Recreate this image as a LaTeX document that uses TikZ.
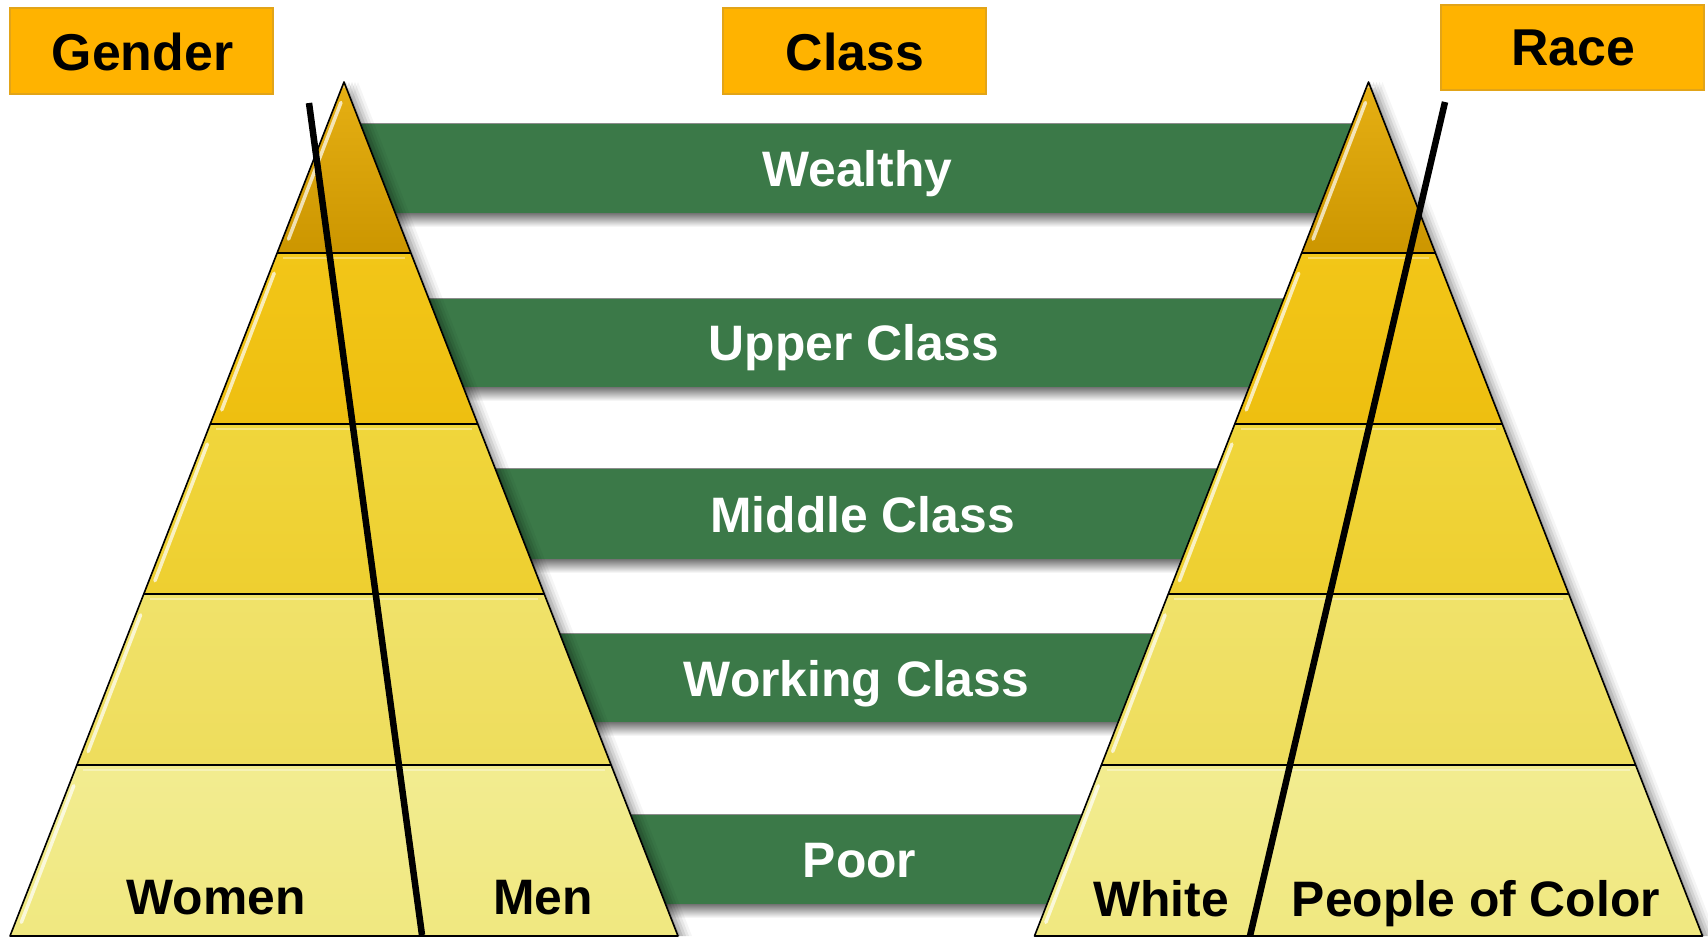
\documentclass[tikz,border=0pt]{standalone}
\usepackage{fontspec}
\setmainfont{Liberation Sans}
\usetikzlibrary{calc}
\definecolor{boxorange}{HTML}{FFB300}
\definecolor{boxedge}{HTML}{E2A418}
\definecolor{bargreen}{HTML}{3B7948}
\definecolor{levAt}{HTML}{E6B014}
\definecolor{levAb}{HTML}{CC9600}
\definecolor{levBt}{HTML}{F2C618}
\definecolor{levBb}{HTML}{EEBF10}
\definecolor{levCt}{HTML}{F0D63C}
\definecolor{levCb}{HTML}{EECF30}
\definecolor{levDt}{HTML}{F0E26A}
\definecolor{levDb}{HTML}{EEDD5C}
\definecolor{levEt}{HTML}{F2EC90}
\definecolor{levEb}{HTML}{F0E880}
\newcommand\mypyr[1]{%
  \foreach \s/\o in {14/0.04,11/0.06,8/0.08,5/0.1,2/0.12}{
    \fill[black,opacity=\o] (#1+\s,82) -- (#1+334+\s,936) -- (#1-334+\s,936) -- cycle;
  }
  \foreach \i/\ca/\cb in {0/levAt/levAb,1/levBt/levBb,2/levCt/levCb,3/levDt/levDb,4/levEt/levEb}{
    \pgfmathsetmacro\ya{82+\i*170.8}
    \pgfmathsetmacro\yb{\ya+170.8}
    \pgfmathsetmacro\wa{(\ya-82)*0.3911}
    \pgfmathsetmacro\wb{(\yb-82)*0.3911}
    \shade[top color=\ca,bottom color=\cb] (#1-\wa,\ya) -- (#1+\wa,\ya) -- (#1+\wb,\yb) -- (#1-\wb,\yb) -- cycle;
    \draw[white,opacity=0.7,line width=3.5bp,line cap=round]
      ($(#1-\wb,\yb)!0.08!(#1-\wa,\ya)+(6,0)$) -- ($(#1-\wb,\yb)!0.88!(#1-\wa,\ya)+(5,0)$);
    \draw[white,opacity=0.35,line width=2bp]
      ($(#1-\wa,\ya)+(6,5)$) -- ($(#1+\wa,\ya)+(-6,5)$);
  }
  \foreach \i in {1,2,3,4}{
    \pgfmathsetmacro\ya{82+\i*170.8}
    \pgfmathsetmacro\wa{(\ya-82)*0.3911}
    \draw[black,line width=2bp] (#1-\wa,\ya) -- (#1+\wa,\ya);
  }
  \draw[black,line width=1.6bp,line join=round] (#1,82) -- (#1+334,936) -- (#1-334,936) -- cycle;
}
\tikzset{
  catbox/.style={draw=boxedge,fill=boxorange,line width=2bp},
  barlabel/.style={text=white,font=\bfseries\fontsize{50}{60}\selectfont,anchor=base,inner sep=0pt},
  toplabel/.style={text=black,font=\bfseries\fontsize{52}{60}\selectfont,anchor=base,inner sep=0pt},
  baselabel/.style={text=black,font=\bfseries\fontsize{50}{60}\selectfont,anchor=base,inner sep=0pt},
  splitline/.style={black,line width=6.5bp}
}
\begin{document}
\begin{tikzpicture}[x=1bp,y=-1bp]
\useasboundingbox (0,0) rectangle (1708,938);
\fill[white] (0,0) rectangle (1708,938);
% class bars with shadows
\foreach \t/\b in {123/213,298/387,468/559,633/722,814/904}{
  \shade[top color=black!55,bottom color=white] (350,\b) rectangle (1372,\b+14);
  \fill[bargreen] (344,\t) rectangle (1368,\b);
  \draw[black!45,line width=1bp] (344,\t) -- (1368,\t);
}
% pyramids
\mypyr{344}
\mypyr{1368.5}
% splitting lines
\coordinate (gtop) at (309,103);
\coordinate (gbot) at (422,935);
\coordinate (rtop) at (1445,102);
\coordinate (rbot) at (1250,936);
\draw[splitline] (gtop) -- (gbot);
\draw[splitline] (rtop) -- (rbot);
% category boxes
\draw[catbox] (10,8) rectangle (273,94);
\draw[catbox] (723,8) rectangle (986,94);
\draw[catbox] (1441,5) rectangle (1704,90);
\node[toplabel] (gender) at (142.5,70) {Gender};
\node[toplabel] (class) at (855,70) {Class};
\node[toplabel] (race) at (1573,65) {Race};
% bar labels
\node[barlabel] (wealthy) at (857.5,186) {Wealthy};
\node[barlabel] (upper) at (854,360) {Upper Class};
\node[barlabel] (middle) at (862.5,532) {Middle Class};
\node[barlabel] (working) at (856.5,696) {Working Class};
\node[barlabel] (poor) at (859.5,877) {Poor};
% base labels
\node[baselabel] (women) at (216,914) {Women};
\node[baselabel] (men) at (543,914) {Men};
\node[baselabel] (white) at (1161,916) {White};
\node[baselabel] (poc) at (1476,916) {People of Color};
\end{tikzpicture}
\end{document}
